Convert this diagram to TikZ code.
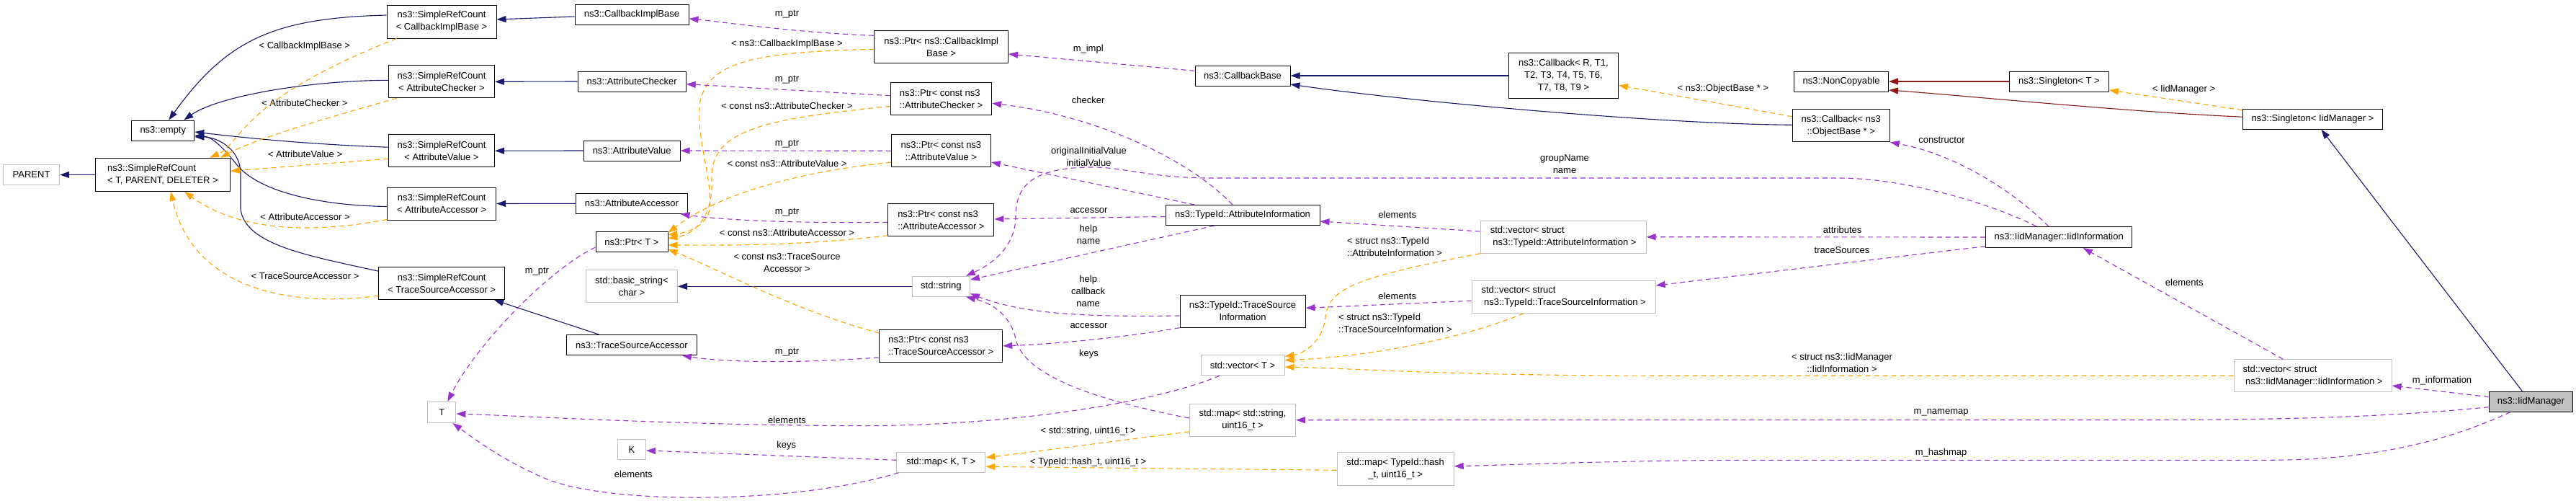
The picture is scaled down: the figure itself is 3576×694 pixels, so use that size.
\documentclass[tikz,border=0pt]{standalone}
\usepackage{fontspec}
\setmainfont{Liberation Sans}
\usetikzlibrary{arrows.meta,calc}
\definecolor{edgeblue}{HTML}{191970}
\definecolor{edgered}{HTML}{8B1A1A}
\definecolor{edgeorange}{HTML}{FFA500}
\definecolor{edgepurple}{HTML}{9A32CD}
\definecolor{grayline}{HTML}{BFBFBF}
\definecolor{nodefill}{HTML}{BFBFBF}
\begin{document}
\begin{tikzpicture}[x=1pt,y=-1pt,
  every node/.style={font=\fontsize{13}{17}\selectfont},
  cls/.style={draw=black,line width=1pt,fill=white,inner sep=0pt,align=center},
  ext/.style={cls,draw=grayline},
  lbl/.style={inner sep=0pt,align=center},
  tip/.style={-{Triangle[length=13pt,width=9pt]}},
  inh/.style={draw=edgeblue,line width=1.1pt,tip},
  prv/.style={draw=edgered,line width=1.1pt,tip},
  tpl/.style={draw=edgeorange,line width=1.1pt,dash pattern=on 7pt off 5pt,tip},
  usg/.style={draw=edgepurple,line width=1.1pt,dash pattern=on 7pt off 5pt,tip}]
\fill[white] (0,0) rectangle (3576,694);
\useasboundingbox (0,0) rectangle (3576,694);

% ---------- nodes ----------
\node[ext,minimum width=78pt,minimum height=28pt] (parent) at (43.6,242.5) {PARENT};
\node[cls,align=left,minimum width=187pt,minimum height=46pt] (srcT) at (226,242.3) {ns3::SimpleRefCount\\< T, PARENT, DELETER >};
\node[cls,minimum width=87pt,minimum height=28pt] (empty) at (226.3,181) {ns3::empty};
\node[cls,minimum width=152pt,minimum height=46pt] (srcCIB) at (613,30) {ns3::SimpleRefCount\\< CallbackImplBase >};
\node[cls,minimum width=147pt,minimum height=45pt] (srcAC) at (613,113.3) {ns3::SimpleRefCount\\< AttributeChecker >};
\node[cls,minimum width=147pt,minimum height=45pt] (srcAV) at (613,209.2) {ns3::SimpleRefCount\\< AttributeValue >};
\node[cls,minimum width=151pt,minimum height=45pt] (srcAA) at (613.2,282.5) {ns3::SimpleRefCount\\< AttributeAccessor >};
\node[cls,minimum width=175pt,minimum height=45pt] (srcTSA) at (613.2,393.2) {ns3::SimpleRefCount\\< TraceSourceAccessor >};
\node[cls,minimum width=158pt,minimum height=28pt] (cib) at (877,20) {ns3::CallbackImplBase};
\node[cls,minimum width=150pt,minimum height=28pt] (achk) at (877.2,113) {ns3::AttributeChecker};
\node[cls,minimum width=134pt,minimum height=28pt] (aval) at (877.2,209) {ns3::AttributeValue};
\node[cls,minimum width=155pt,minimum height=28pt] (aacc) at (877,282.3) {ns3::AttributeAccessor};
\node[cls,minimum width=100pt,minimum height=28pt] (ptrT) at (877,335.7) {ns3::Ptr< T >};
\node[ext,minimum width=127pt,minimum height=45pt] (bstr) at (877,397.3) {std::basic\_string<\\char >};
\node[cls,minimum width=181pt,minimum height=28pt] (tsa) at (877,478.7) {ns3::TraceSourceAccessor};
\node[ext,minimum width=39pt,minimum height=29pt] (T) at (613.4,572) {T};
\node[ext,minimum width=39pt,minimum height=28pt] (K) at (877,623.8) {K};
\node[cls,minimum width=186pt,minimum height=45pt] (ptrCIB) at (1306.6,65.3) {ns3::Ptr< ns3::CallbackImpl\\Base >};
\node[cls,align=left,minimum width=140pt,minimum height=45pt] (ptrAC) at (1306.6,137.3) {ns3::Ptr< const ns3\\::AttributeChecker >};
\node[cls,minimum width=138pt,minimum height=45pt] (ptrAV) at (1306.4,209.3) {ns3::Ptr< const ns3\\::AttributeValue >};
\node[cls,align=left,minimum width=147pt,minimum height=45pt] (ptrAA) at (1306.4,305.3) {ns3::Ptr< const ns3\\::AttributeAccessor >};
\node[ext,minimum width=80pt,minimum height=28pt] (str) at (1306.4,397.3) {std::string};
\node[cls,align=left,minimum width=171pt,minimum height=45pt] (ptrTSA) at (1306.2,479.8) {ns3::Ptr< const ns3\\::TraceSourceAccessor >};
\node[ext,minimum width=123pt,minimum height=28pt] (mapKT) at (1306.4,641.3) {std::map< K, T >};
\node[cls,minimum width=132pt,minimum height=28pt] (cbBase) at (1725,105) {ns3::CallbackBase};
\node[cls,minimum width=214pt,minimum height=28pt] (attrInfo) at (1725,298.5) {ns3::TypeId::AttributeInformation};
\node[cls,minimum width=174pt,minimum height=45pt] (tsInfo) at (1725,431.7) {ns3::TypeId::TraceSource\\Information};
\node[ext,minimum width=116pt,minimum height=28pt] (vecT) at (1725,506.7) {std::vector< T >};
\node[ext,minimum width=147pt,minimum height=45pt] (mapStr) at (1725,582.7) {std::map< std::string,\\uint16\_t >};
\node[ext,minimum width=162pt,minimum height=46pt] (mapHash) at (1937.2,650.5) {std::map< TypeId::hash\\\_t, uint16\_t >};
\node[cls,minimum width=152pt,minimum height=63pt] (cbR) at (2170.4,105) {ns3::Callback< R, T1,\\T2, T3, T4, T5, T6,\\T7, T8, T9 >};
\node[ext,align=left,minimum width=230pt,minimum height=45pt] (vecAI) at (2170.2,328.7) {std::vector< struct\\\mbox{} ns3::TypeId::AttributeInformation >};
\node[ext,align=left,minimum width=255pt,minimum height=45pt] (vecTSI) at (2170.6,411.7) {std::vector< struct\\\mbox{} ns3::TypeId::TraceSourceInformation >};
\node[cls,minimum width=131pt,minimum height=28pt] (nonCopy) at (2556,113) {ns3::NonCopyable};
\node[cls,minimum width=138pt,minimum height=28pt] (singT) at (2858.4,113) {ns3::Singleton< T >};
\node[cls,minimum width=135pt,minimum height=45pt] (cbOB) at (2555.7,174.3) {ns3::Callback< ns3\\::ObjectBase * >};
\node[cls,minimum width=203pt,minimum height=29pt] (iidInfo) at (2858.2,329) {ns3::IidManager::IidInformation};
\node[cls,minimum width=194pt,minimum height=28pt] (singIid) at (3210.4,165.2) {ns3::Singleton< IidManager >};
\node[ext,align=left,minimum width=219pt,minimum height=45pt] (vecIid) at (3210.5,521.2) {std::vector< struct\\\mbox{} ns3::IidManager::IidInformation >};
\node[cls,fill=nodefill,minimum width=116pt,minimum height=28pt] (iidMgr) at (3513.4,557.2) {ns3::IidManager};

% ---------- labels ----------
\node[lbl] (l1) at (422.8,64.3) {< CallbackImplBase >};
\node[lbl] (l2) at (422.8,143.3) {< AttributeChecker >};
\node[lbl] (l3) at (423.6,214.3) {< AttributeValue >};
\node[lbl] (l4) at (423.6,300.7) {< AttributeAccessor >};
\node[lbl] (l5) at (423.6,382.7) {< TraceSourceAccessor >};
\node[lbl] (l6) at (1092.5,19.3) {m\_ptr};
\node[lbl] (l7) at (1092.5,60.7) {< ns3::CallbackImplBase >};
\node[lbl] (l8) at (1092.5,111) {m\_ptr};
\node[lbl] (l9) at (1092.5,146.7) {< const ns3::AttributeChecker >};
\node[lbl] (l10) at (1092.5,200) {m\_ptr};
\node[lbl] (l11) at (1092.5,226.7) {< const ns3::AttributeValue >};
\node[lbl] (l12) at (1092.5,294.7) {m\_ptr};
\node[lbl] (l13) at (1092.5,323.3) {< const ns3::AttributeAccessor >};
\node[lbl] (l14) at (745.4,376.3) {m\_ptr};
\node[lbl] (l15) at (1092.5,364.2) {< const ns3::TraceSource\\Accessor >};
\node[lbl] (l16) at (1092.5,489) {m\_ptr};
\node[lbl] (l17) at (1092.5,583.3) {elements};
\node[lbl] (l18) at (1091.7,618.3) {keys};
\node[lbl] (l19) at (879.3,658.3) {elements};
\node[lbl] (l20) at (1510.7,67.7) {m\_impl};
\node[lbl] (l21) at (1510.7,139.3) {checker};
\node[lbl] (l22) at (1511.5,217.5) {originalInitialValue\\initialValue};
\node[lbl] (l23) at (1511.5,291.7) {accessor};
\node[lbl] (l24) at (1511,325.7) {help\\name};
\node[lbl] (l25) at (1510.7,403.5) {help\\callback\\name};
\node[lbl] (l26) at (1511.5,452.3) {accessor};
\node[lbl] (l27) at (1511.5,490.7) {keys};
\node[lbl] (l28) at (1510.7,598.3) {< std::string, uint16\_t >};
\node[lbl] (l29) at (1510.7,640.7) {< TypeId::hash\_t, uint16\_t >};
\node[lbl] (l30) at (2391.8,123.3) {< ns3::ObjectBase * >};
\node[lbl] (l31) at (2172,228) {groupName\\name};
\node[lbl] (l32) at (1939.7,298.3) {elements};
\node[lbl,align=left,anchor=west] (l33) at (1870,342) {< struct ns3::TypeId\\::AttributeInformation >};
\node[lbl] (l34) at (1939.7,410.7) {elements};
\node[lbl,align=left,anchor=west] (l35) at (1858,448.2) {< struct ns3::TypeId\\::TraceSourceInformation >};
\node[lbl] (l36) at (2695.4,194.3) {constructor};
\node[lbl] (l37) at (2557.7,319.3) {attributes};
\node[lbl] (l38) at (2557,347.5) {traceSources};
\node[lbl] (l39) at (2557,503) {< struct ns3::IidManager\\::IidInformation >};
\node[lbl] (l40) at (2694.6,572.7) {m\_namemap};
\node[lbl] (l41) at (2694.6,628.3) {m\_hashmap};
\node[lbl] (l42) at (3031.5,124) {< IidManager >};
\node[lbl] (l43) at (3032.3,392.3) {elements};
\node[lbl] (l44) at (3390,528.3) {m\_information};

% ---------- inheritance (blue) ----------
\draw[inh] (srcT.west) -- (parent.east);
\draw[inh] ($(srcCIB.west)+(0,-9)$) .. controls (380,25) and (315,55) .. ($(empty.north)+(8,0)$);
\draw[inh] ($(srcAC.west)+(0,-2)$) .. controls (420,112) and (300,135) .. ($(empty.north)+(29,0)$);
\draw[inh] ($(srcAV.west)+(0,-5)$) .. controls (420,200) and (330,190) .. ($(empty.east)+(0,2)$);
\draw[inh] ($(srcAA.west)+(0,4)$) .. controls (440,285) and (360,265) .. (330,230) .. controls (310,205) and (295,190) .. ($(empty.east)+(0,7)$);
\draw[inh] ($(srcTSA.west)+(0,-17)$) .. controls (430,355) and (340,340) .. (334,290) -- (334,240) .. controls (333,205) and (300,190) .. ($(empty.east)+(0,9)$);
\draw[inh] ($(cib.west)+(0,3)$) -- ($(srcCIB.east)+(0,-3)$);
\draw[inh] (achk.west) -- (srcAC.east);
\draw[inh] (aval.west) -- (srcAV.east);
\draw[inh] (aacc.west) -- (srcAA.east);
\draw[inh] ($(tsa.north west)+(46,0)$) -- ($(srcTSA.south east)+(-15,0)$);
\draw[inh] (str.west) -- (bstr.east);
\draw[inh] (cbR.west) -- (cbBase.east);
\draw[inh] ($(cbOB.west)+(0,-1)$) .. controls (2300,172) and (1950,140) .. ($(cbBase.east)+(0,12)$);
\draw[inh] ($(iidMgr.north)+(-12,0)$) -- ($(singIid.south)+(12,0)$);

% ---------- private inheritance (red) ----------
\draw[prv] (singT.west) -- (nonCopy.east);
\draw[prv] ($(singIid.west)+(0,-3)$) .. controls (2950,155) and (2720,132) .. ($(nonCopy.east)+(0,12)$);

% ---------- template instances (orange) ----------
\draw[tpl] ($(srcCIB.south west)+(14,0)$) .. controls (330,140) and (335,200) .. ($(srcT.north)+(65,0)$);
\draw[tpl] ($(srcAC.south west)+(12,0)$) .. controls (430,170) and (350,195) .. ($(srcT.north)+(80,0)$);
\draw[tpl] ($(srcAV.west)+(0,11)$) -- ($(srcT.east)+(0,-5)$);
\draw[tpl] ($(srcAA.west)+(0,22)$) .. controls (430,325) and (330,320) .. ($(srcT.south)+(30,0)$);
\draw[tpl] ($(srcTSA.west)+(0,17)$) .. controls (420,425) and (270,410) .. ($(srcT.south)+(11,0)$);
\draw[tpl] ($(ptrCIB.west)+(0,3)$) .. controls (1050,72) and (985,85) .. (972,140) .. controls (965,190) and (990,250) .. (985,290) .. controls (982,310) and (960,322) .. ($(ptrT.east)+(0,-10)$);
\draw[tpl] ($(ptrAC.west)+(0,10)$) .. controls (1060,165) and (985,180) .. (988,250) .. controls (990,300) and (965,325) .. ($(ptrT.east)+(0,-5)$);
\draw[tpl] ($(ptrAV.west)+(0,16)$) .. controls (1090,240) and (990,275) .. ($(ptrT.east)+(0,-13)$);
\draw[tpl] ($(ptrAA.west)+(0,21.5)$) .. controls (1100,342) and (1000,340) .. ($(ptrT.east)+(0,4.3)$);
\draw[tpl] ($(ptrTSA.west)+(0,-17.8)$) .. controls (1100,430) and (990,370) .. ($(ptrT.east)+(0,10.3)$);
\draw[tpl] ($(cbOB.west)+(0,-12.6)$) -- ($(cbR.east)+(0,13.3)$);
\draw[tpl] ($(singIid.north west)+(0,2)$) -- ($(singT.east)+(0,12)$);
\draw[tpl] (vecAI.south west) .. controls (1880,385) and (1845,400) .. (1840,440) .. controls (1836,475) and (1810,490) .. ($(vecT.east)+(0,-12)$);
\draw[tpl] ($(vecTSI.south west)+(72.6,0)$) .. controls (2030,470) and (1900,495) .. ($(vecT.east)+(0,-7)$);
\draw[tpl] (vecIid.west) -- (2300,521.2) .. controls (2000,521) and (1860,510) .. ($(vecT.east)+(0,2.5)$);
\draw[tpl] ($(mapStr.west)+(0,16.3)$) .. controls (1560,610) and (1450,625) .. ($(mapKT.east)+(0,-6.6)$);
\draw[tpl] ($(mapHash.west)+(0,1.8)$) -- ($(mapKT.east)+(0,6)$);

% ---------- usage (purple) ----------
\draw[usg] ($(ptrCIB.west)+(0,-16)$) .. controls (1100,45) and (1000,30) .. ($(cib.east)+(0,6)$);
\draw[usg] ($(ptrAC.west)+(0,-4.6)$) -- ($(achk.east)+(0,3.7)$);
\draw[usg] (ptrAV.west) -- (aval.east);
\draw[usg] ($(ptrAA.west)+(0,3)$) .. controls (1100,310) and (1000,305) .. ($(aacc.south east)+(-10.5,0)$);
\draw[usg] ($(ptrTSA.west)+(0,16)$) .. controls (1100,505) and (1000,502) .. ($(tsa.south east)+(-21,0)$);
\draw[usg] ($(ptrT.west)+(0,7.3)$) .. controls (760,375) and (660,480) .. ($(T.north east)+(-12,0)$);
\draw[usg] ($(cbBase.west)+(0,-6.7)$) -- ($(ptrCIB.east)+(0,9.7)$);
\draw[usg] ($(attrInfo.north)+(-14,0)$) .. controls (1650,220) and (1520,160) .. ($(ptrAC.east)+(0,6)$);
\draw[usg] ($(attrInfo.north west)+(41,0)$) -- ($(ptrAV.east)+(0,15.7)$);
\draw[usg] ($(attrInfo.west)+(0,2)$) -- ($(ptrAA.east)+(0,-1.3)$);
\draw[usg] ($(attrInfo.south)+(-39,0)$) -- ($(str.east)+(0,-9.3)$);
\draw[usg] ($(tsInfo.west)+(0,6.3)$) .. controls (1500,440) and (1420,435) .. ($(str.east)+(0,10)$);
\draw[usg] (tsInfo.south west) .. controls (1550,470) and (1450,478) .. (ptrTSA.east);
\draw[usg] ($(mapStr.west)+(0,-2.7)$) .. controls (1520,555) and (1420,520) .. (1410,470) .. controls (1402,435) and (1375,420) .. ($(str.south east)+(-6,0)$);
\draw[usg] ($(iidInfo.north)+(-31.5,0)$) .. controls (2760,280) and (2640,247) .. (2553,247) -- (1680,247) .. controls (1600,247) and (1560,232) .. (1517,232) .. controls (1430,232) and (1410,260) .. (1410,300) .. controls (1410,340) and (1380,365) .. ($(str.north east)+(-6,0)$);
\draw[usg] ($(vecAI.west)+(0,-7.7)$) -- ($(attrInfo.east)+(0,8.5)$);
\draw[usg] ($(vecTSI.west)+(0,5.6)$) -- ($(tsInfo.east)+(0,-4.4)$);
\draw[usg] ($(vecT.south west)+(26.6,0)$) .. controls (1600,560) and (1400,590) .. (1200,590.7) .. controls (950,590) and (750,578) .. ($(T.east)+(0,2)$);
\draw[usg] ($(mapKT.west)+(0,-3)$) -- ($(K.east)+(0,1.2)$);
\draw[usg] ($(mapKT.south west)+(3,0)$) .. controls (1100,700) and (850,700) .. (760,665) .. controls (700,640) and (660,610) .. ($(T.south east)+(-5,0)$);
\draw[usg] ($(iidInfo.north)+(-14.3,0)$) .. controls (2800,270) and (2720,215) .. (cbOB.south east);
\draw[usg] (iidInfo.west) -- (vecAI.east);
\draw[usg] ($(iidInfo.west)+(0,12.7)$) -- ($(vecTSI.east)+(0,-15.7)$);
\draw[usg] ($(vecIid.north)+(-41.3,0)$) -- ($(iidInfo.south)+(33.5,0)$);
\draw[usg] ($(iidMgr.west)+(0,-6.5)$) -- ($(vecIid.east)+(0,13.8)$);
\draw[usg] ($(iidMgr.west)+(0,7.5)$) .. controls (3300,580) and (3150,582.5) .. (2950,582.5) -- (mapStr.east);
\draw[usg] ($(iidMgr.south)+(-28.4,0)$) .. controls (3400,610) and (3300,638) .. (3150,638.3) -- (2400,638.3) .. controls (2200,640) and (2100,645) .. ($(mapHash.east)+(0,-3.8)$);
\end{tikzpicture}
\end{document}
